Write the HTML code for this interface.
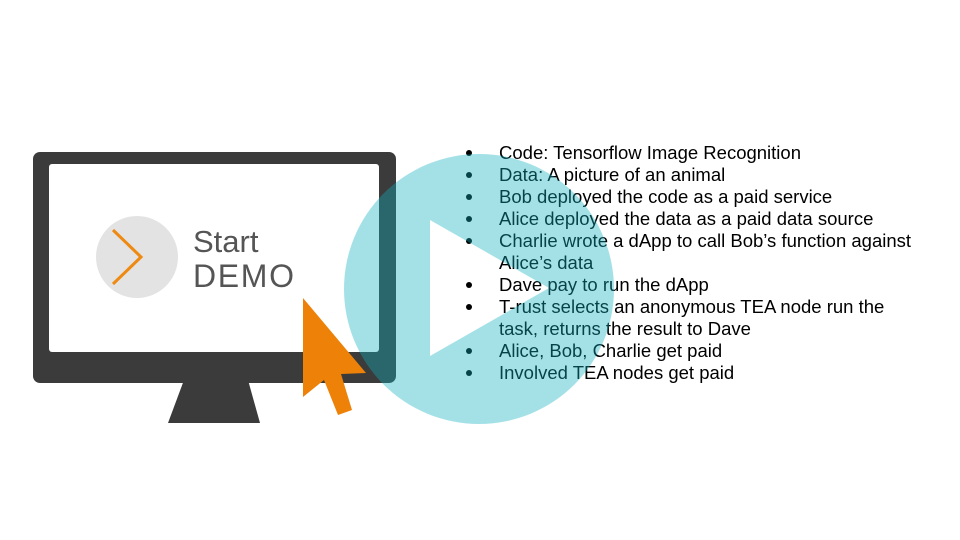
<!DOCTYPE html>
<html><head><meta charset="utf-8"><style>
html,body{margin:0;padding:0;background:#fff;}
body{width:960px;height:540px;position:relative;overflow:hidden;font-family:"Liberation Sans",Arial,sans-serif;}
svg{position:absolute;left:0;top:0;}
</style></head><body>
<svg width="960" height="540" viewBox="0 0 960 540">
  <polygon points="184,380 248,380 260,423 168,423" fill="#3b3b3b"/>
  <rect x="33" y="152" width="363" height="231" rx="7" fill="#3b3b3b"/>
  <rect x="49" y="164" width="330" height="188" rx="3" fill="#fff"/>
  <circle cx="137" cy="257" r="41" fill="#e3e3e3"/>
  <polyline points="113,230 141,257 113,284" fill="none" stroke="#ee8a12" stroke-width="3"/>
  <text x="193" y="252" font-size="31" fill="#555" font-family="Liberation Sans, sans-serif">Start</text>
  <text x="193" y="287" font-size="32" fill="#555" font-family="Liberation Sans, sans-serif" textLength="101" lengthAdjust="spacing">DEMO</text>
  <g font-size="18.5" fill="#000" font-family="Liberation Sans, Arial, sans-serif">
    <g fill="#000">
      <circle cx="469" cy="153" r="3"/><circle cx="469" cy="175" r="3"/><circle cx="469" cy="197" r="3"/>
      <circle cx="469" cy="219" r="3"/><circle cx="469" cy="241" r="3"/><circle cx="469" cy="285" r="3"/>
      <circle cx="469" cy="307" r="3"/><circle cx="469" cy="351" r="3"/><circle cx="469" cy="373" r="3"/>
    </g>
    <text x="499" y="159">Code: Tensorflow Image Recognition</text>
    <text x="499" y="181">Data: A picture of an animal</text>
    <text x="499" y="203">Bob deployed the code as a paid service</text>
    <text x="499" y="225">Alice deployed the data as a paid data source</text>
    <text x="499" y="247">Charlie wrote a dApp to call Bob’s function against</text>
    <text x="499" y="269">Alice’s data</text>
    <text x="499" y="291">Dave pay to run the dApp</text>
    <text x="499" y="313">T-rust selects an anonymous TEA node run the</text>
    <text x="499" y="335">task, returns the result to Dave</text>
    <text x="499" y="357">Alice, Bob, Charlie get paid</text>
    <text x="499" y="379">Involved TEA nodes get paid</text>
  </g>
  <path fill-rule="evenodd" fill="rgb(16,177,193)" fill-opacity="0.38"
    d="M344,289 a135,135 0 1,0 270,0 a135,135 0 1,0 -270,0 Z M430,220 L430,356 L549,288 Z"/>
  <polygon points="303,298 303,397 324,380 338,415 352,410 341,374 366,373" fill="#ee8208"/>
</svg>
</body></html>
